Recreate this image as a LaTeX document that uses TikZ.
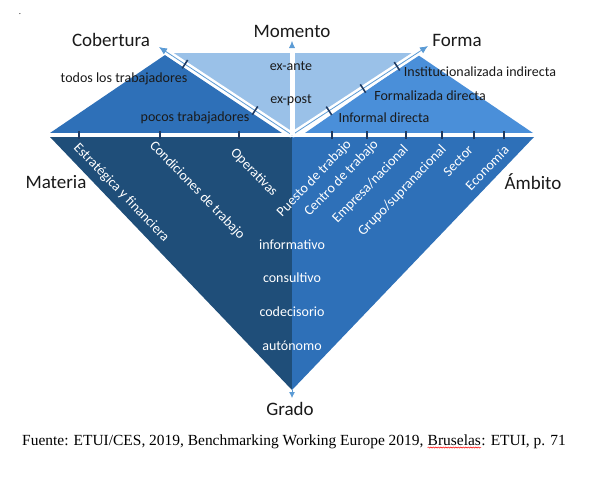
\documentclass[tikz,border=0pt]{standalone}
\usepackage{fontspec}
\setmainfont{Carlito}
\newfontfamily\capfont{Liberation Serif}
\usetikzlibrary{arrows.meta,decorations.pathmorphing,calc}
\definecolor{navy}{HTML}{1F4E79}
\definecolor{midblue}{HTML}{2E70B8}
\definecolor{formblue}{HTML}{4A8FD9}
\definecolor{lightblue}{HTML}{9AC1E8}
\definecolor{arrowblue}{HTML}{5B9BD5}
\definecolor{tickblue}{HTML}{1F3B63}
\definecolor{txt}{HTML}{1A1A1A}
\begin{document}
\begin{tikzpicture}[x=1pt,y=-1pt,
  big/.style={font=\fontsize{19}{22}\selectfont, text=txt, inner sep=0pt},
  small/.style={font=\fontsize{14}{16}\selectfont, text=txt, inner sep=0pt},
  wlab/.style={font=\fontsize{14}{16}\selectfont, text=white, inner sep=0pt},
  captext/.style={font=\capfont\fontsize{15.45}{18}\selectfont, text=black, inner sep=0pt},
  axisband/.style={draw=white, line width=6pt, shorten >=6pt},
  axisline/.style={draw=arrowblue, line width=0.8pt, -{Latex[length=8pt,width=7pt]}},
  tickmark/.style={draw=tickblue, line width=1.6pt},
]
\useasboundingbox (0,0) rectangle (609,477);
\fill[white] (0,0) rectangle (609,477);

% key points
\coordinate (O) at (292,135);
\coordinate (tipC) at (159,47);
\coordinate (tipM) at (292,41);
\coordinate (tipF) at (428,46);
\coordinate (bot) at (292,390);
\coordinate (tipG) at (292,398);

% areas
\fill[lightblue] (172,53) -- (413,53) -- (O) -- cycle;
\fill[midblue] (50,133) -- (165,55) -- (282,133) -- cycle;
\fill[formblue] (305,133) -- (418,55) -- (533,133) -- cycle;
\fill[navy] (50,137) -- (292,137) -- (bot) -- cycle;
\fill[midblue] (292,137) -- (534,137) -- (bot) -- cycle;

% horizontal band
\draw[white, line width=4pt] (46,135) -- (538,135);

% axes
\draw[axisband] (O) -- (tipC);
\draw[axisline] (O) -- (tipC);
\draw[axisband] (O) -- (tipF);
\draw[axisline] (O) -- (tipF);
\draw[draw=white, line width=5pt, shorten >=7pt] (O) -- (tipM);
\draw[draw=white, line width=0.5pt, -{Latex[length=7pt,width=6pt,color=arrowblue]}] (O) -- (tipM);
\draw[draw=arrowblue, line width=0.8pt, -{Latex[length=6pt,width=6pt]}] (bot) -- (tipG);

% ticks on horizontal band
\foreach \x in {79,160,239,332,367,406,442,474,504}
  \draw[tickmark] (\x,131) -- (\x,138.5);

% ticks on diagonal axes
\foreach \t/\n in {0.805/c1,0.278/c2}{
  \coordinate (\n) at ($(O)!\t!(tipC)$);
  \draw[tickmark] ($(\n)!5pt!90:(tipC)$) -- ($(\n)!5pt!-90:(tipC)$);
}
\foreach \t/\n in {0.772/f1,0.522/f2,0.272/f3}{
  \coordinate (\n) at ($(O)!\t!(tipF)$);
  \draw[tickmark] ($(\n)!5pt!90:(tipF)$) -- ($(\n)!5pt!-90:(tipF)$);
}

% dimension titles
\node[big] (cob) at (111,40) {Cobertura};
\node[big] (mom) at (292,31) {Momento};
\node[big] (for) at (457,40) {Forma};
\node[big] (mat) at (56,182) {Materia};
\node[big] (amb) at (533,182) {Ámbito};
\node[big] (gra) at (290,409) {Grado};

% upper labels
\node[small] (todos) at (124,79) {todos los trabajadores};
\node[small] (pocos) at (195,118) {pocos trabajadores};
\node[small] (exante) at (291,66) {ex-ante};
\node[small] (expost) at (291,100) {ex-post};
\node[small] (inst) at (480,72) {Institucionalizada indirecta};
\node[small] (formal) at (430,96) {Formalizada directa};
\node[small] (infor) at (384,118) {Informal directa};

% Materia labels
\node[wlab, rotate=-46, anchor=base west] (estr) at (73,148) {Estratégica y financiera};
\node[wlab, rotate=-46, anchor=base west] (cond) at (149,146) {Condiciones de trabajo};
\node[wlab, rotate=-46, anchor=base west] (oper) at (230,153) {Operativas};

% Ambito labels
\node[wlab, rotate=46, anchor=base east] (puesto) at (352,145) {Puesto de trabajo};
\node[wlab, rotate=46, anchor=base east] (centro) at (379,145) {Centro de trabajo};
\node[wlab, rotate=46, anchor=base east] (empresa) at (409,150) {Empresa/nacional};
\node[wlab, rotate=46, anchor=base east] (grupo) at (447,150) {Grupo/supranacional};
\node[wlab, rotate=46, anchor=base east] (sector) at (474,151) {Sector};
\node[wlab, rotate=46, anchor=base east] (econ) at (510,151) {Economía};

% Grado labels
\node[wlab] (info) at (292,245) {informativo};
\node[wlab] (cons) at (292,278) {consultivo};
\node[wlab] (code) at (292,312) {codecisorio};
\node[wlab] (auto) at (292,346) {autónomo};

% stray dot and caption
\node[captext, font=\capfont\fontsize{9}{10}\selectfont, anchor=base] (dot) at (20,14) {.};
\node[captext, anchor=base west] (c1) at (22,445) {Fuente: ETUI/CES, 2019, Benchmarking Working Europe 2019,};
\node[captext, anchor=base west] (c2) at ([xshift=3.85pt]c1.base east) {Bruselas};
\node[captext, anchor=base west] (c3) at (c2.base east) {: ETUI, p. 71};
\draw[red, line width=0.5pt, decorate, decoration={snake, amplitude=0.6pt, segment length=2.5pt}]
  ([yshift=-2.5pt]c2.base west) -- ([yshift=-2.5pt]c2.base east);
\end{tikzpicture}
\end{document}
